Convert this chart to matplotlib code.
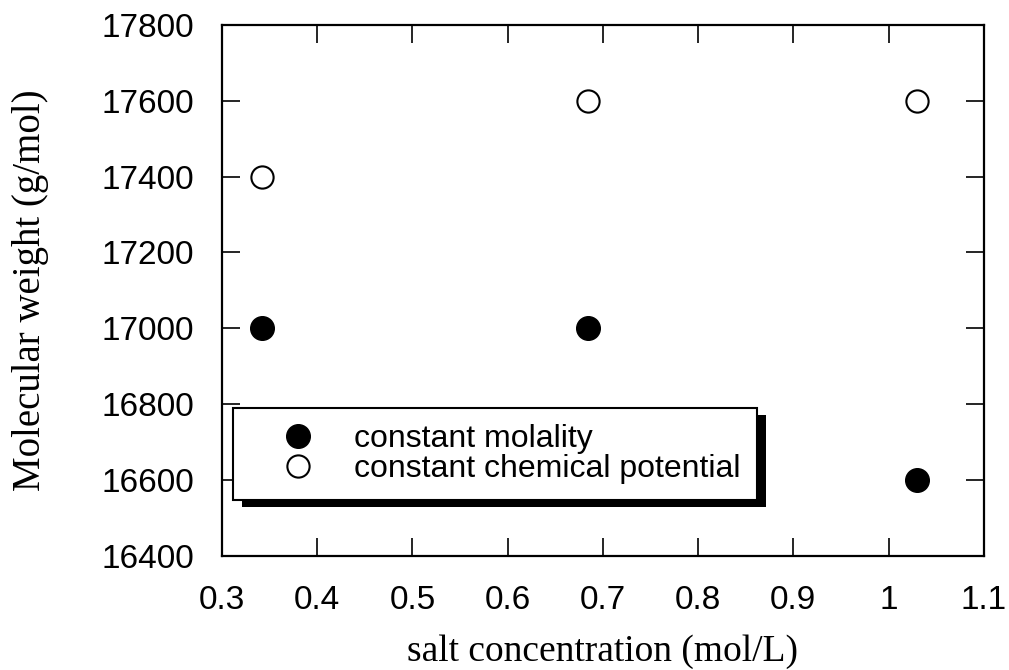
import matplotlib.pyplot as plt
from matplotlib.patches import Rectangle
from matplotlib.transforms import IdentityTransform

# == dados ==
conc = [0.342, 0.684, 1.03]
mw_molalidade = [17000, 17000, 16600]
mw_potencial = [17400, 17600, 17600]

xticks = [0.3, 0.4, 0.5, 0.6, 0.7, 0.8, 0.9, 1, 1.1]
xticklabels = ['0.3', '0.4', '0.5', '0.6', '0.7', '0.8', '0.9', '1', '1.1']
yticks = [16400, 16600, 16800, 17000, 17200, 17400, 17600, 17800]

sans = 'Liberation Sans'
serif = 'Liberation Serif'

fig = plt.figure(figsize=(10.09, 6.70), dpi=100)
ax = fig.add_axes([0.220, 0.170, 0.755, 0.793])

ax.plot(conc, mw_molalidade, 'o', color='black', markersize=17,
        label='constant molality', zorder=3)
ax.plot(conc, mw_potencial, 'o', markerfacecolor='white', markeredgecolor='black',
        markeredgewidth=1.5, markersize=16, label='constant chemical potential', zorder=3)

ax.set_xlim(0.3, 1.1)
ax.set_ylim(16400, 17800)
ax.set_xticks(xticks)
ax.set_xticklabels(xticklabels)
ax.set_yticks(yticks)

ax.tick_params(direction='in', length=13, width=1.2, top=True, right=True,
               labelsize=24)
ax.tick_params(axis='y', pad=20)
ax.tick_params(axis='x', pad=21)
for lab in ax.get_xticklabels() + ax.get_yticklabels():
    lab.set_fontfamily(sans)
for s in ax.spines.values():
    s.set_linewidth(1.6)

ax.set_xlabel('salt concentration (mol/L)', fontfamily=serif, fontsize=27, labelpad=13)
ax.set_ylabel('Molecular weight (g/mol)', fontfamily=serif, fontsize=28, labelpad=38)

leg = ax.legend(loc='upper left', bbox_to_anchor=(0.0144, 0.279), borderaxespad=0,
                prop={'family': sans, 'size': 23}, numpoints=1, handlelength=3.1,
                handletextpad=0.2, labelspacing=0.0, borderpad=0.5,
                fancybox=False, framealpha=1, edgecolor='black')
leg.get_frame().set_linewidth(1.5)
leg.set_zorder(5)

# sombra da legenda
fig.canvas.draw()
bb = leg.get_window_extent()
ax.add_patch(Rectangle((bb.x0 + 9, bb.y0 - 7), bb.width, bb.height,
                       transform=IdentityTransform(), facecolor='black',
                       edgecolor='none', zorder=4.9, clip_on=False))

fig.savefig('out.png', dpi=100)
